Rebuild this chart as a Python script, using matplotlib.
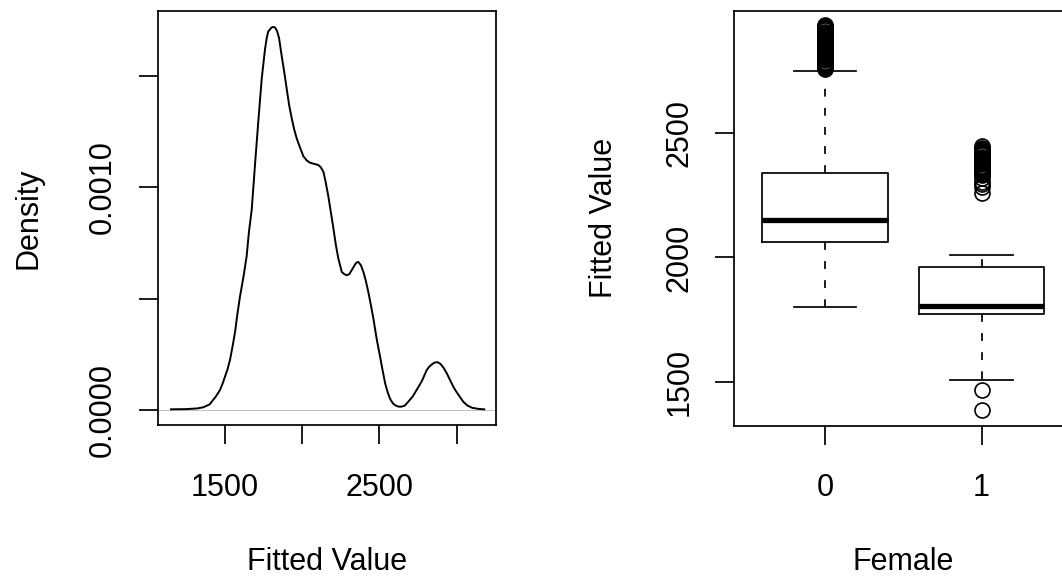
import matplotlib
matplotlib.use('Agg')
import matplotlib.pyplot as plt

plt.rcParams['font.family'] = ['Liberation Sans', 'DejaVu Sans']
plt.rcParams['font.size'] = 22

# density of fitted values
dens_x = [1150, 1250, 1320, 1359, 1400, 1440, 1468, 1485, 1500, 1515, 1532, 1550,
          1565, 1580, 1597, 1620, 1640, 1655, 1673, 1694, 1716, 1738, 1759, 1770,
          1780, 1790, 1800, 1813, 1825, 1838, 1850, 1867, 1883, 1900, 1915, 1932,
          1948, 1964, 1985, 2007, 2030, 2051, 2078, 2104, 2120, 2137, 2150, 2169,
          2185, 2201, 2218, 2234, 2245, 2256, 2272, 2288, 2305, 2331, 2348, 2363,
          2380, 2396, 2412, 2428, 2445, 2461, 2482, 2504, 2520, 2537, 2553, 2569,
          2587, 2605, 2625, 2644, 2665, 2690, 2715, 2741, 2775, 2806, 2823, 2840,
          2858, 2875, 2895, 2915, 2936, 2957, 2978, 3000, 3020, 3043, 3070, 3100,
          3140, 3179]
dens_y = [0.000003, 0.000004, 0.000007, 0.000012, 0.000025, 0.00006, 0.00009, 0.00012,
          0.00015, 0.00018, 0.000224, 0.00029, 0.00035, 0.00043, 0.00051, 0.0006,
          0.00069, 0.0008, 0.00090, 0.00110, 0.00130, 0.00149, 0.00162, 0.00167,
          0.00170, 0.001708, 0.001717, 0.00172, 0.001717, 0.00170, 0.00167, 0.00159,
          0.00152, 0.00144, 0.00137, 0.00131, 0.00126, 0.00122, 0.00118, 0.00114,
          0.00112, 0.00111, 0.001105, 0.00110, 0.00109, 0.00107, 0.00103, 0.00096,
          0.00089, 0.00082, 0.00074, 0.00068, 0.00065, 0.00062, 0.00061, 0.000605,
          0.00061, 0.00064, 0.00066, 0.000665, 0.00065, 0.00062, 0.00058, 0.00053,
          0.00047, 0.00041, 0.00032, 0.00024, 0.00018, 0.00012, 0.00008, 0.00005,
          0.00003, 0.00002, 0.000015, 0.000015, 0.00002, 0.00004, 0.00006, 0.00009,
          0.00013, 0.000179, 0.000195, 0.000205, 0.000213, 0.000215, 0.000207, 0.00019,
          0.000165, 0.000135, 0.000105, 0.00008, 0.00006, 0.000037, 0.00002, 0.00001,
          0.000005, 0.000003]

# boxplot of fitted value by Female
groups = ['0', '1']
q1 = [2061, 1773]
med = [2151, 1804]
q3 = [2339, 1961]
whis_lo = [1801, 1505]
whis_hi = [2751, 2011]
fliers_0 = [2758, 2762, 2766, 2771, 2775, 2779, 2784, 2788, 2793, 2797, 2801, 2806,
            2810, 2815, 2819, 2824, 2828, 2833, 2837, 2842, 2846, 2851, 2855, 2860,
            2864, 2869, 2873, 2878, 2882, 2887, 2891, 2896, 2900, 2905, 2909, 2914,
            2918, 2923, 2927, 2931, 2934]
fliers_1 = [1386, 1466, 2258, 2285, 2296, 2305, 2318, 2330, 2334, 2339, 2343, 2348,
            2352, 2357, 2361, 2366, 2370, 2375, 2379, 2384, 2388, 2393, 2397, 2402,
            2406, 2411, 2415, 2420, 2424, 2429, 2433, 2438, 2442, 2447]

fig = plt.figure(figsize=(10.62, 5.76), dpi=100)
W, H = 1062.0, 576.0

tick_len = 13.7
lw = 1.25

# ---- left: density
ax1 = fig.add_axes([157.7 / W, 1 - 425 / H, 338.3 / W, 414 / H])
ax1.axhline(0, color='#BEBEBE', lw=0.7, zorder=1)
ax1.plot(dens_x, dens_y, color='black', lw=1.4, zorder=2)
ax1.set_xlim(1064, 3255)
ax1.set_ylim(-0.0000674, 0.0017916)
ax1.set_xticks([1500, 2000, 2500, 3000])
ax1.set_xticklabels(['1500', '', '2500', ''])
ax1.set_yticks([0, 0.0005, 0.001, 0.0015])
ax1.set_yticklabels(['0.0000', '', '0.0010', ''], rotation=90, va='center')

# ---- right: boxplot
ax2 = fig.add_axes([734 / W, 1 - 425.7 / H, 338.4 / W, 414.7 / H])
stats = []
for i in range(2):
    stats.append({'med': med[i], 'q1': q1[i], 'q3': q3[i],
                  'whislo': whis_lo[i], 'whishi': whis_hi[i],
                  'fliers': [fliers_0, fliers_1][i]})
ax2.bxp(stats, positions=[1, 2], widths=0.8, patch_artist=False,
        boxprops=dict(color='black', lw=lw),
        medianprops=dict(color='black', lw=3.8, solid_capstyle='butt'),
        whiskerprops=dict(color='black', lw=lw, linestyle=(0, (4.5, 6.5))),
        capprops=dict(color='black', lw=lw),
        flierprops=dict(marker='o', markerfacecolor='none', markeredgecolor='black',
                        markersize=10.8, markeredgewidth=1.2))
ax2.set_xlim(0.42, 2.58)
ax2.set_ylim(1323, 2992)
ax2.set_xticks([1, 2])
ax2.set_xticklabels(groups)
ax2.set_yticks([1500, 2000, 2500])
ax2.set_yticklabels(['1500', '2000', '2500'], rotation=90, va='center')

for ax in (ax1, ax2):
    for s in ax.spines.values():
        s.set_linewidth(lw)
    ax.tick_params(axis='both', direction='out', length=tick_len, width=lw)
    ax.tick_params(axis='x', pad=20.5)
    ax.tick_params(axis='y', pad=14.8)

# axis titles
fig.text(326.9 / W, 1 - 570 / H, 'Fitted Value', ha='center', va='baseline')
fig.text(903.2 / W, 1 - 570 / H, 'Female', ha='center', va='baseline')
fig.text(36 / W, 1 - 218 / H, 'Density', rotation=90, rotation_mode='anchor',
         ha='center', va='baseline')
fig.text(612 / W, 1 - 218 / H, 'Fitted Value', rotation=90, rotation_mode='anchor',
         ha='center', va='baseline')

fig.savefig('out.png', dpi=100)
